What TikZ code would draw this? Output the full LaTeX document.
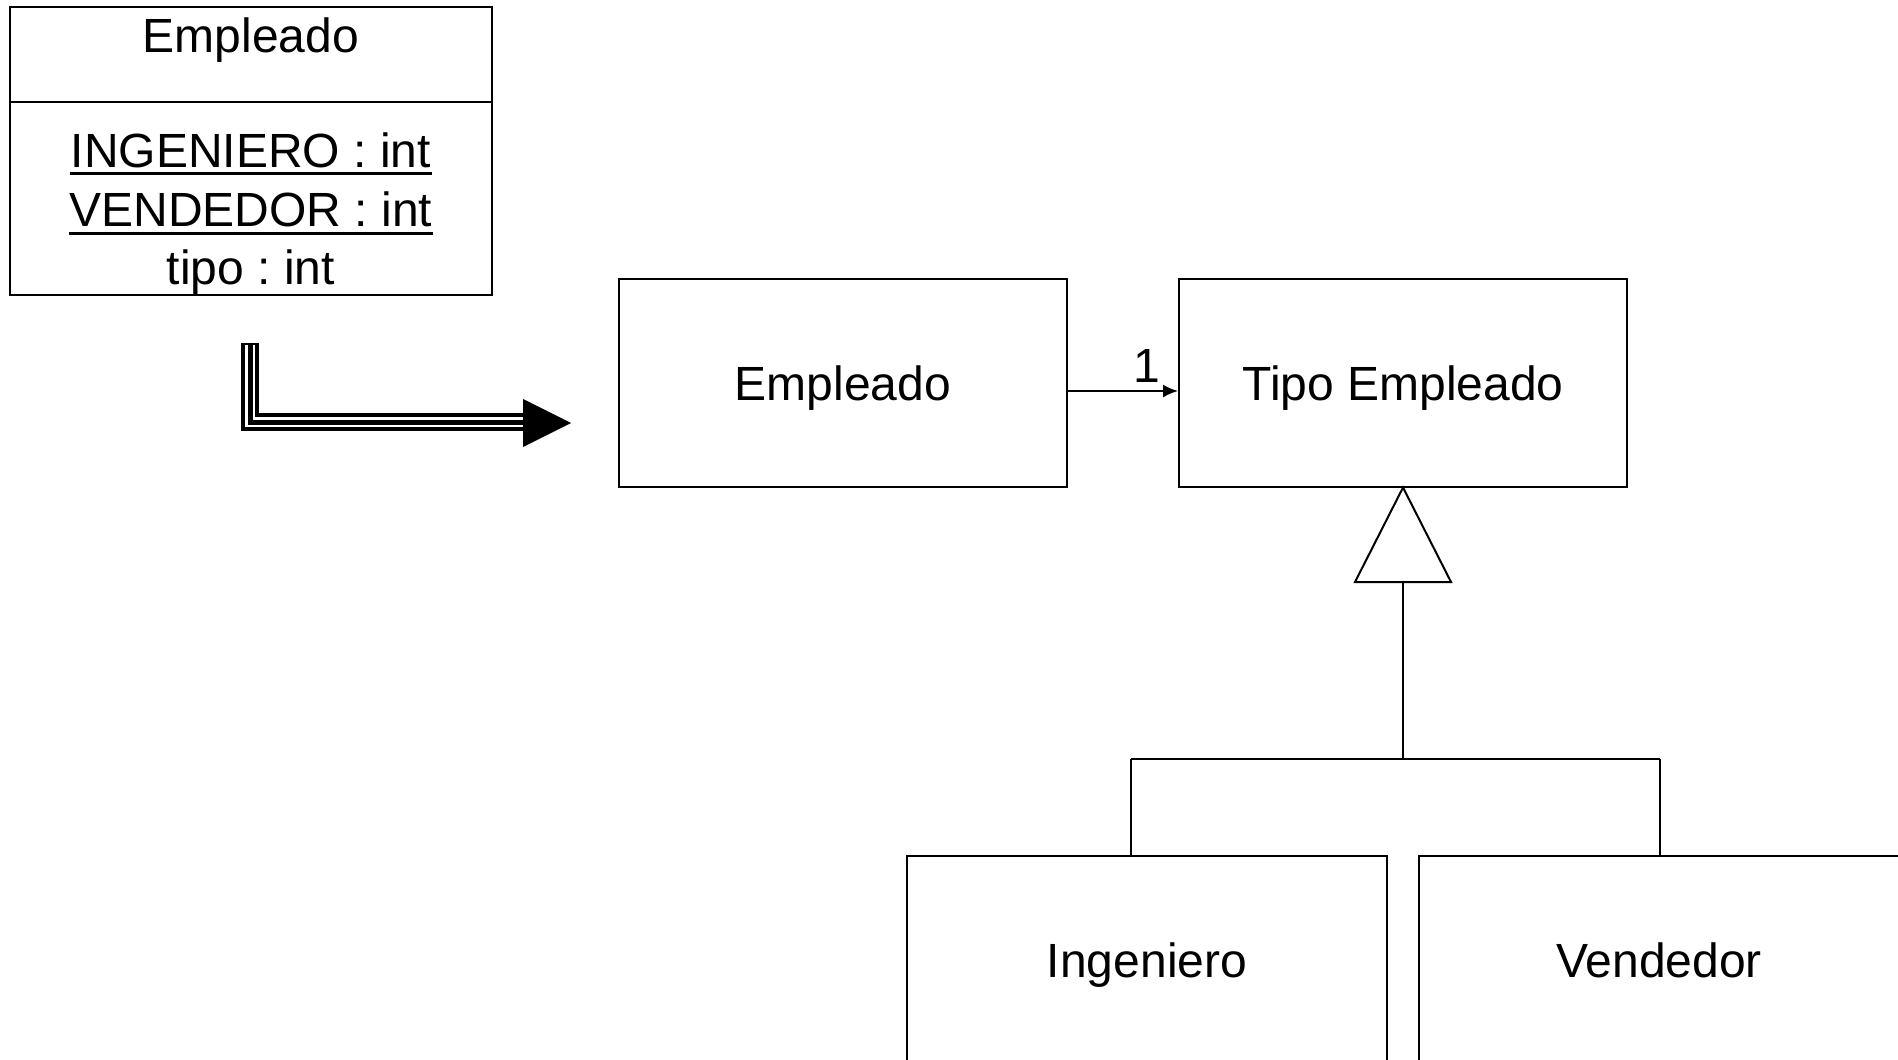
\documentclass[tikz,border=0pt]{standalone}
\usepackage{fontspec}
\setmainfont{Liberation Sans}
\usetikzlibrary{arrows.meta}
\frenchspacing
\begin{document}
\begin{tikzpicture}[x=0.5pt,y=-0.5pt,line width=1pt,
  box/.style={draw,line width=1pt,inner sep=0pt,minimum width=#1},
  txt/.style={font=\fontsize{24}{29}\selectfont,inner sep=0pt,anchor=base},
  uline/.style={line width=1.5pt}]
\useasboundingbox (0,0) rectangle (1898,1059);
\fill[white] (0,0) rectangle (1898,1059);

% class box (top-left)
\node[box=241pt,minimum height=144pt] (cls) at (251,151) {};
\draw (cls.west |- 0,102) coordinate (dl) -- (cls.east |- 0,102) coordinate (dr);
\node[txt] (clsname) at (251,53) {Empleado};
\node[txt] (a1) at (251,168) {INGENIERO : int};
\node[txt] (a2) at (251,227) {VENDEDOR : int};
\node[txt] (a3) at (251,284) {tipo : int};
\draw[uline] ([yshift=-3pt]a1.base west) -- ([yshift=-3pt]a1.base east);
\draw[uline] ([yshift=-3pt]a2.base west) -- ([yshift=-3pt]a2.base east);

% triple arrow
\coordinate (ts) at (250,343);
\coordinate (tc) at (250,422);
\coordinate (te) at (524,422);
\draw[line width=9pt,line join=miter] (ts) -- (tc) -- (te);
\draw[white,line width=5pt,line join=miter] ([yshift=-1pt]ts) -- (tc) -- ([xshift=1pt]te);
\draw[line width=2.5pt,line join=miter] ([yshift=-1pt]ts) -- (tc) -- ([xshift=1pt]te);
\fill (523,399) -- (571,423) -- (523,447) -- cycle;

% middle boxes
\node[box=224pt,minimum height=104pt] (emp) at (843,382.5) {};
\node[txt] (empt) at (843,400) {Empleado};
\node[box=224pt,minimum height=104pt] (tipo) at (1403,382.5) {};
\node[txt] (tipot) at (1403,400) {Tipo Empleado};

% association
\draw[-{Latex[length=7.5pt,width=6.5pt]}] (emp.east |- 0,391) -- (tipo.west |- 0,391);
\node[txt] (one) at (1147,382) {1};

% generalization
\coordinate (apex) at (tipo.south);
\draw[line join=miter] (apex) -- (1451,582) -- (1355,582) -- cycle;
\coordinate (tb) at (1403,582);
\coordinate (hj) at (1403,759);
\coordinate (hl) at (1131,759);
\coordinate (hr) at (1660,759);

% bottom boxes
\node[box=240pt,minimum height=105pt,anchor=north] (ing) at (1147,855) {};
\node[txt] (ingt) at (1147,977) {Ingeniero};
\node[box=240pt,minimum height=105pt,anchor=north] (ven) at (1659,855) {};
\node[txt] (vent) at (1659,977) {Vendedor};

\draw (tb) -- (hj);
\draw (hl) -- (hr);
\draw (hl) -- (hl |- ing.north);
\draw (hr) -- (hr |- ven.north);
\end{tikzpicture}
\end{document}
